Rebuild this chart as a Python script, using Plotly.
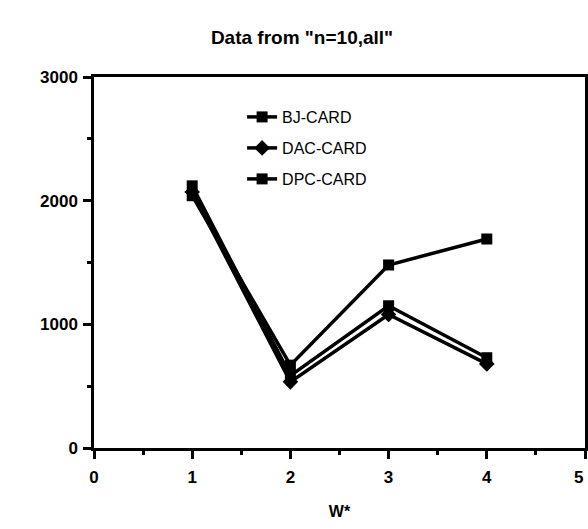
import plotly.graph_objects as go

w_vals = [1, 2, 3, 4]
bj_card = [2040, 670, 1480, 1690]
dac_card = [2070, 535, 1080, 680]
dpc_card = [2120, 585, 1150, 730]

x_ticks = [0, 1, 2, 3, 4, 5]
y_ticks = [0, 1000, 2000, 3000]

FONT = "Liberation Sans, Arial, sans-serif"
NARROW = "Liberation Sans Narrow, Liberation Sans, Arial, sans-serif"

fig = go.Figure()
fig.add_trace(go.Scatter(x=w_vals, y=bj_card, name="BJ-CARD", mode="lines+markers",
                         line=dict(color="black", width=3.5),
                         marker=dict(symbol="square", size=11, color="black"),
                         legend="legend"))
fig.add_trace(go.Scatter(x=w_vals, y=dac_card, name="DAC-CARD", mode="lines+markers",
                         line=dict(color="black", width=3.5),
                         marker=dict(symbol="diamond", size=12, color="black"),
                         legend="legend2"))
fig.add_trace(go.Scatter(x=w_vals, y=dpc_card, name="DPC-CARD", mode="lines+markers",
                         line=dict(color="black", width=3.5),
                         marker=dict(symbol="square", size=11, color="black"),
                         legend="legend3"))

leg_common = dict(font=dict(family=NARROW, size=16, color="black"),
                  bgcolor="rgba(0,0,0,0)", xanchor="left", yanchor="middle",
                  itemwidth=30)
lx = (243 - 94) / 494

def ly(py):
    return (448 - py) / 371

tickfont = dict(family=FONT, size=17, color="black", weight="bold")

fig.update_layout(
    width=588, height=529,
    margin=dict(l=94, r=0, t=77, b=81),
    paper_bgcolor="white", plot_bgcolor="white",
    title=dict(text='Data from "n=10,all"', x=302 / 588, xanchor="center",
               y=1 - 37 / 529, yanchor="middle",
               font=dict(family=FONT, size=19, color="black", weight="bold")),
    showlegend=True,
    legend=dict(x=lx, y=ly(117), **leg_common),
    legend2=dict(x=lx, y=ly(148), **leg_common),
    legend3=dict(x=lx, y=ly(179), **leg_common),
    xaxis=dict(range=[0, 5], tickvals=x_ticks, ticktext=[str(v) for v in x_ticks],
               showgrid=False, zeroline=False, showline=True, linecolor="black",
               linewidth=2.5, mirror=True, ticks="outside", ticklen=8, tickwidth=3,
               tickcolor="black", ticklabelstandoff=4,
               minor=dict(dtick=0.5, ticks="outside", ticklen=4, tickwidth=2.5,
                          tickcolor="black", showgrid=False),
               tickfont=tickfont,
               title=dict(text="W*", standoff=20,
                          font=dict(family=FONT, size=16, color="black", weight="bold"))),
    yaxis=dict(range=[0, 3000], tickvals=y_ticks, ticktext=[str(v) for v in y_ticks],
               showgrid=False, zeroline=False, showline=True, linecolor="black",
               linewidth=2.5, mirror=True, ticks="outside", ticklen=8, tickwidth=3,
               tickcolor="black", ticklabelstandoff=2,
               minor=dict(dtick=500, ticks="outside", ticklen=4, tickwidth=2.5,
                          tickcolor="black", showgrid=False),
               tickfont=tickfont),
)

fig.add_annotation(x=x_ticks[-1], y=0, xref="x", yref="paper", yshift=-29,
                   text=str(x_ticks[-1]), showarrow=False, xanchor="right",
                   yanchor="middle", font=tickfont)

fig.write_html("out.html")
